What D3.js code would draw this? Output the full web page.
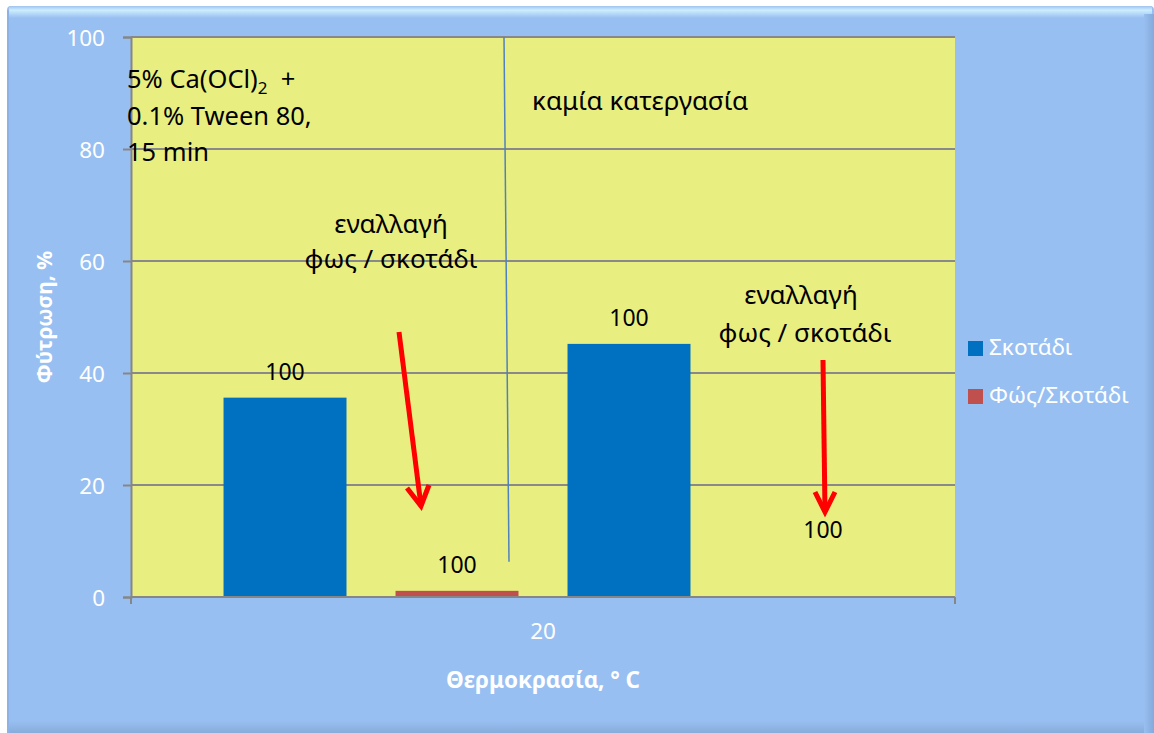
<!DOCTYPE html>
<html>
<head>
<meta charset="utf-8">
<script src="https://cdn.jsdelivr.net/npm/d3@7"></script>
<style>
  body { margin: 0; background: #fff; }
  svg { display: block; font-family: "Noto Sans", "Open Sans", sans-serif; }
</style>
</head>
<body>
<script>
// data
const categories = ["20"];
const groups = ["5% Ca(OCl)2 + 0.1% Tween 80, 15 min", "καμία κατεργασία"];
const seriesNames = ["Σκοτάδι", "Φώς/Σκοτάδι"];
const seriesColors = ["#0070c0", "#c0504d"];
const darkValues = [35.6, 45.2];
const lightValues = [1.1, 0];
const dataLabels = ["100", "100", "100", "100"];
const yTicks = [0, 20, 40, 60, 80, 100];

const width = 1154, height = 733;
const margin = { left: 131, right: 199, top: 37, bottom: 136 };

const svg = d3.select("body").append("svg")
    .attr("width", width)
    .attr("height", height);

const defs = svg.append("defs");
const topGrad = defs.append("linearGradient").attr("id", "topBevel").attr("x1", 0).attr("y1", 0).attr("x2", 0).attr("y2", 1);
topGrad.append("stop").attr("offset", "0%").attr("stop-color", "#9fc3ee");
topGrad.append("stop").attr("offset", "35%").attr("stop-color", "#cdeeff");
topGrad.append("stop").attr("offset", "100%").attr("stop-color", "#98bff1");
const rightGrad = defs.append("linearGradient").attr("id", "rightBevel").attr("x1", 0).attr("y1", 0).attr("x2", 1).attr("y2", 0);
rightGrad.append("stop").attr("offset", "0%").attr("stop-color", "#98bff1");
rightGrad.append("stop").attr("offset", "100%").attr("stop-color", "#84a9da");
const bottomGrad = defs.append("linearGradient").attr("id", "bottomBevel").attr("x1", 0).attr("y1", 0).attr("x2", 0).attr("y2", 1);
bottomGrad.append("stop").attr("offset", "0%").attr("stop-color", "#98bff1");
bottomGrad.append("stop").attr("offset", "100%").attr("stop-color", "#87acdc");

// chart frame
svg.append("rect").attr("x", 7).attr("y", 6).attr("width", width - 7).attr("height", height - 6)
    .attr("rx", 4).attr("fill", "#98bff1");
svg.append("rect").attr("x", 9).attr("y", 6).attr("width", width - 11).attr("height", 12).attr("fill", "url(#topBevel)");
svg.append("rect").attr("x", width - 10).attr("y", 14).attr("width", 10).attr("height", height - 14).attr("fill", "url(#rightBevel)");
svg.append("rect").attr("x", 9).attr("y", height - 12).attr("width", width - 19).attr("height", 12).attr("fill", "url(#bottomBevel)");
svg.append("rect").attr("x", 7).attr("y", 10).attr("width", 2).attr("height", height - 10).attr("fill", "#8db3e6");

const plotW = width - margin.left - margin.right;
const plotH = height - margin.top - margin.bottom;

const g = svg.append("g").attr("transform", `translate(${margin.left},${margin.top})`);

const y = d3.scaleLinear().domain([0, 100]).range([plotH, 0]);
const x0 = d3.scaleBand().domain(categories).range([0, plotW]);

const rows = groups.flatMap((grp, i) => seriesNames.map((s, j) => ({
    key: i + "-" + j,
    series: j,
    value: j === 0 ? darkValues[i] : lightValues[i],
    label: dataLabels[i * 2 + j]
})));

const x1 = d3.scaleBand().domain(rows.map(d => d.key))
    .range([0, x0.bandwidth()])
    .paddingInner(0.285)
    .paddingOuter(0.538);

// plot area
g.append("rect").attr("width", plotW).attr("height", plotH).attr("fill", "#e8ef80");

// gridlines
g.append("g").selectAll("line").data(yTicks.filter(t => t > 0)).join("line")
    .attr("x1", 0).attr("x2", plotW)
    .attr("y1", d => y(d)).attr("y2", d => y(d))
    .attr("stroke", "#898989").attr("stroke-width", 2);

// bars
const cat = g.append("g").attr("transform", `translate(${x0(categories[0])},0)`);
cat.selectAll("rect.bar").data(rows).join("rect")
    .attr("class", "bar")
    .attr("x", d => x1(d.key))
    .attr("y", d => y(d.value))
    .attr("width", x1.bandwidth())
    .attr("height", d => plotH - y(d.value))
    .attr("fill", d => seriesColors[d.series]);

// axes
const yAxis = g.append("g").call(d3.axisLeft(y).tickValues(yTicks).tickSize(8).tickPadding(18));
const xAxis = g.append("g").attr("transform", `translate(0,${plotH})`)
    .call(d3.axisBottom(x0).tickSize(0).tickPadding(26));
xAxis.append("g").selectAll("line").data([0, plotW]).join("line")
    .attr("x1", d => d).attr("x2", d => d).attr("y1", 0).attr("y2", 7)
    .attr("stroke", "#868686").attr("stroke-width", 2);
[yAxis, xAxis].forEach(a => {
    a.select(".domain").attr("stroke", "#868686").attr("stroke-width", 2);
    a.selectAll(".tick line").attr("stroke", "#868686").attr("stroke-width", 2);
    a.selectAll("text").attr("fill", "#fff").attr("font-size", 22.5).attr("font-family", "Noto Sans");
});
yAxis.selectAll("text").attr("dy", "0.36em");
xAxis.select(".domain").attr("d", `M0,0H${plotW}`);

// data labels (the last one was moved by hand in the original)
cat.selectAll("text.lbl").data(rows).join("text")
    .attr("class", "lbl")
    .attr("x", d => x1(d.key) + x1.bandwidth() / 2 + (d.key === "1-1" ? 22 : 0))
    .attr("y", d => y(d.value) - 18 + (d.key === "1-1" ? -41 : 0))
    .attr("text-anchor", "middle")
    .attr("font-size", 23)
    .attr("fill", "#000")
    .text(d => d.label);

// separator line drawn over the chart
g.append("line")
    .attr("x1", 373).attr("y1", 0)
    .attr("x2", 378).attr("y2", y(6.3))
    .attr("stroke", "#4f81bd").attr("stroke-width", 1.5);

// red arrows
const arrows = [
    { from: [268, 295], to: [290, 469], wing: [[276, 451], [298, 448]] },
    { from: [692, 323], to: [694, 475], wing: [[684, 455], [704, 455]] }
];
arrows.forEach(a => {
    g.append("line")
        .attr("x1", a.from[0]).attr("y1", a.from[1])
        .attr("x2", a.to[0]).attr("y2", a.to[1])
        .attr("stroke", "#ff0000").attr("stroke-width", 5);
    g.append("path")
        .attr("d", d3.line()([a.wing[0], a.to, a.wing[1]]))
        .attr("fill", "none")
        .attr("stroke", "#ff0000").attr("stroke-width", 5)
        .attr("stroke-linejoin", "miter");
});

// text boxes
const note = svg.append("text").attr("font-size", 25.5).attr("fill", "#000");
const l1 = note.append("tspan").attr("x", 127).attr("y", 88);
l1.append("tspan").text("5% Ca(OCl)");
l1.append("tspan").attr("font-size", 17).attr("dy", 6).text("2");
l1.append("tspan").attr("dy", -6).text("\u00a0\u00a0+");
note.append("tspan").attr("x", 127).attr("y", 125).text("0.1% Tween 80,");
note.append("tspan").attr("x", 127).attr("y", 161).text("15 min");

svg.append("text").attr("x", 532).attr("y", 110).attr("font-size", 26).text("καμία κατεργασία");

const sw1 = svg.append("text").attr("font-size", 26).attr("text-anchor", "middle");
sw1.append("tspan").attr("x", 391).attr("y", 233).text("εναλλαγή");
sw1.append("tspan").attr("x", 391).attr("y", 268).text("φως / σκοτάδι");
const sw2 = svg.append("text").attr("font-size", 26).attr("text-anchor", "middle");
sw2.append("tspan").attr("x", 801).attr("y", 304).text("εναλλαγή");
sw2.append("tspan").attr("x", 805).attr("y", 342).text("φως / σκοτάδι");

// axis titles
svg.append("text")
    .attr("x", margin.left + plotW / 2).attr("y", 688)
    .attr("text-anchor", "middle").attr("font-size", 22.5).attr("font-weight", "bold").attr("fill", "#fff")
    .text("Θερμοκρασία, ° C");
svg.append("text")
    .attr("transform", "translate(52,317) rotate(-90)")
    .attr("text-anchor", "middle").attr("font-size", 21).attr("font-weight", "bold").attr("fill", "#fff")
    .text("Φύτρωση, %");

// legend
const legend = svg.append("g").attr("transform", "translate(968,341)");
const li = legend.selectAll("g").data(seriesNames).join("g")
    .attr("transform", (d, i) => `translate(0,${i * 48})`);
li.append("rect").attr("width", 15).attr("height", 15).attr("fill", (d, i) => seriesColors[i]);
li.append("text").attr("x", 21).attr("y", 14).attr("font-size", 22.5).attr("fill", "#fff").text(d => d);
</script>
</body>
</html>
